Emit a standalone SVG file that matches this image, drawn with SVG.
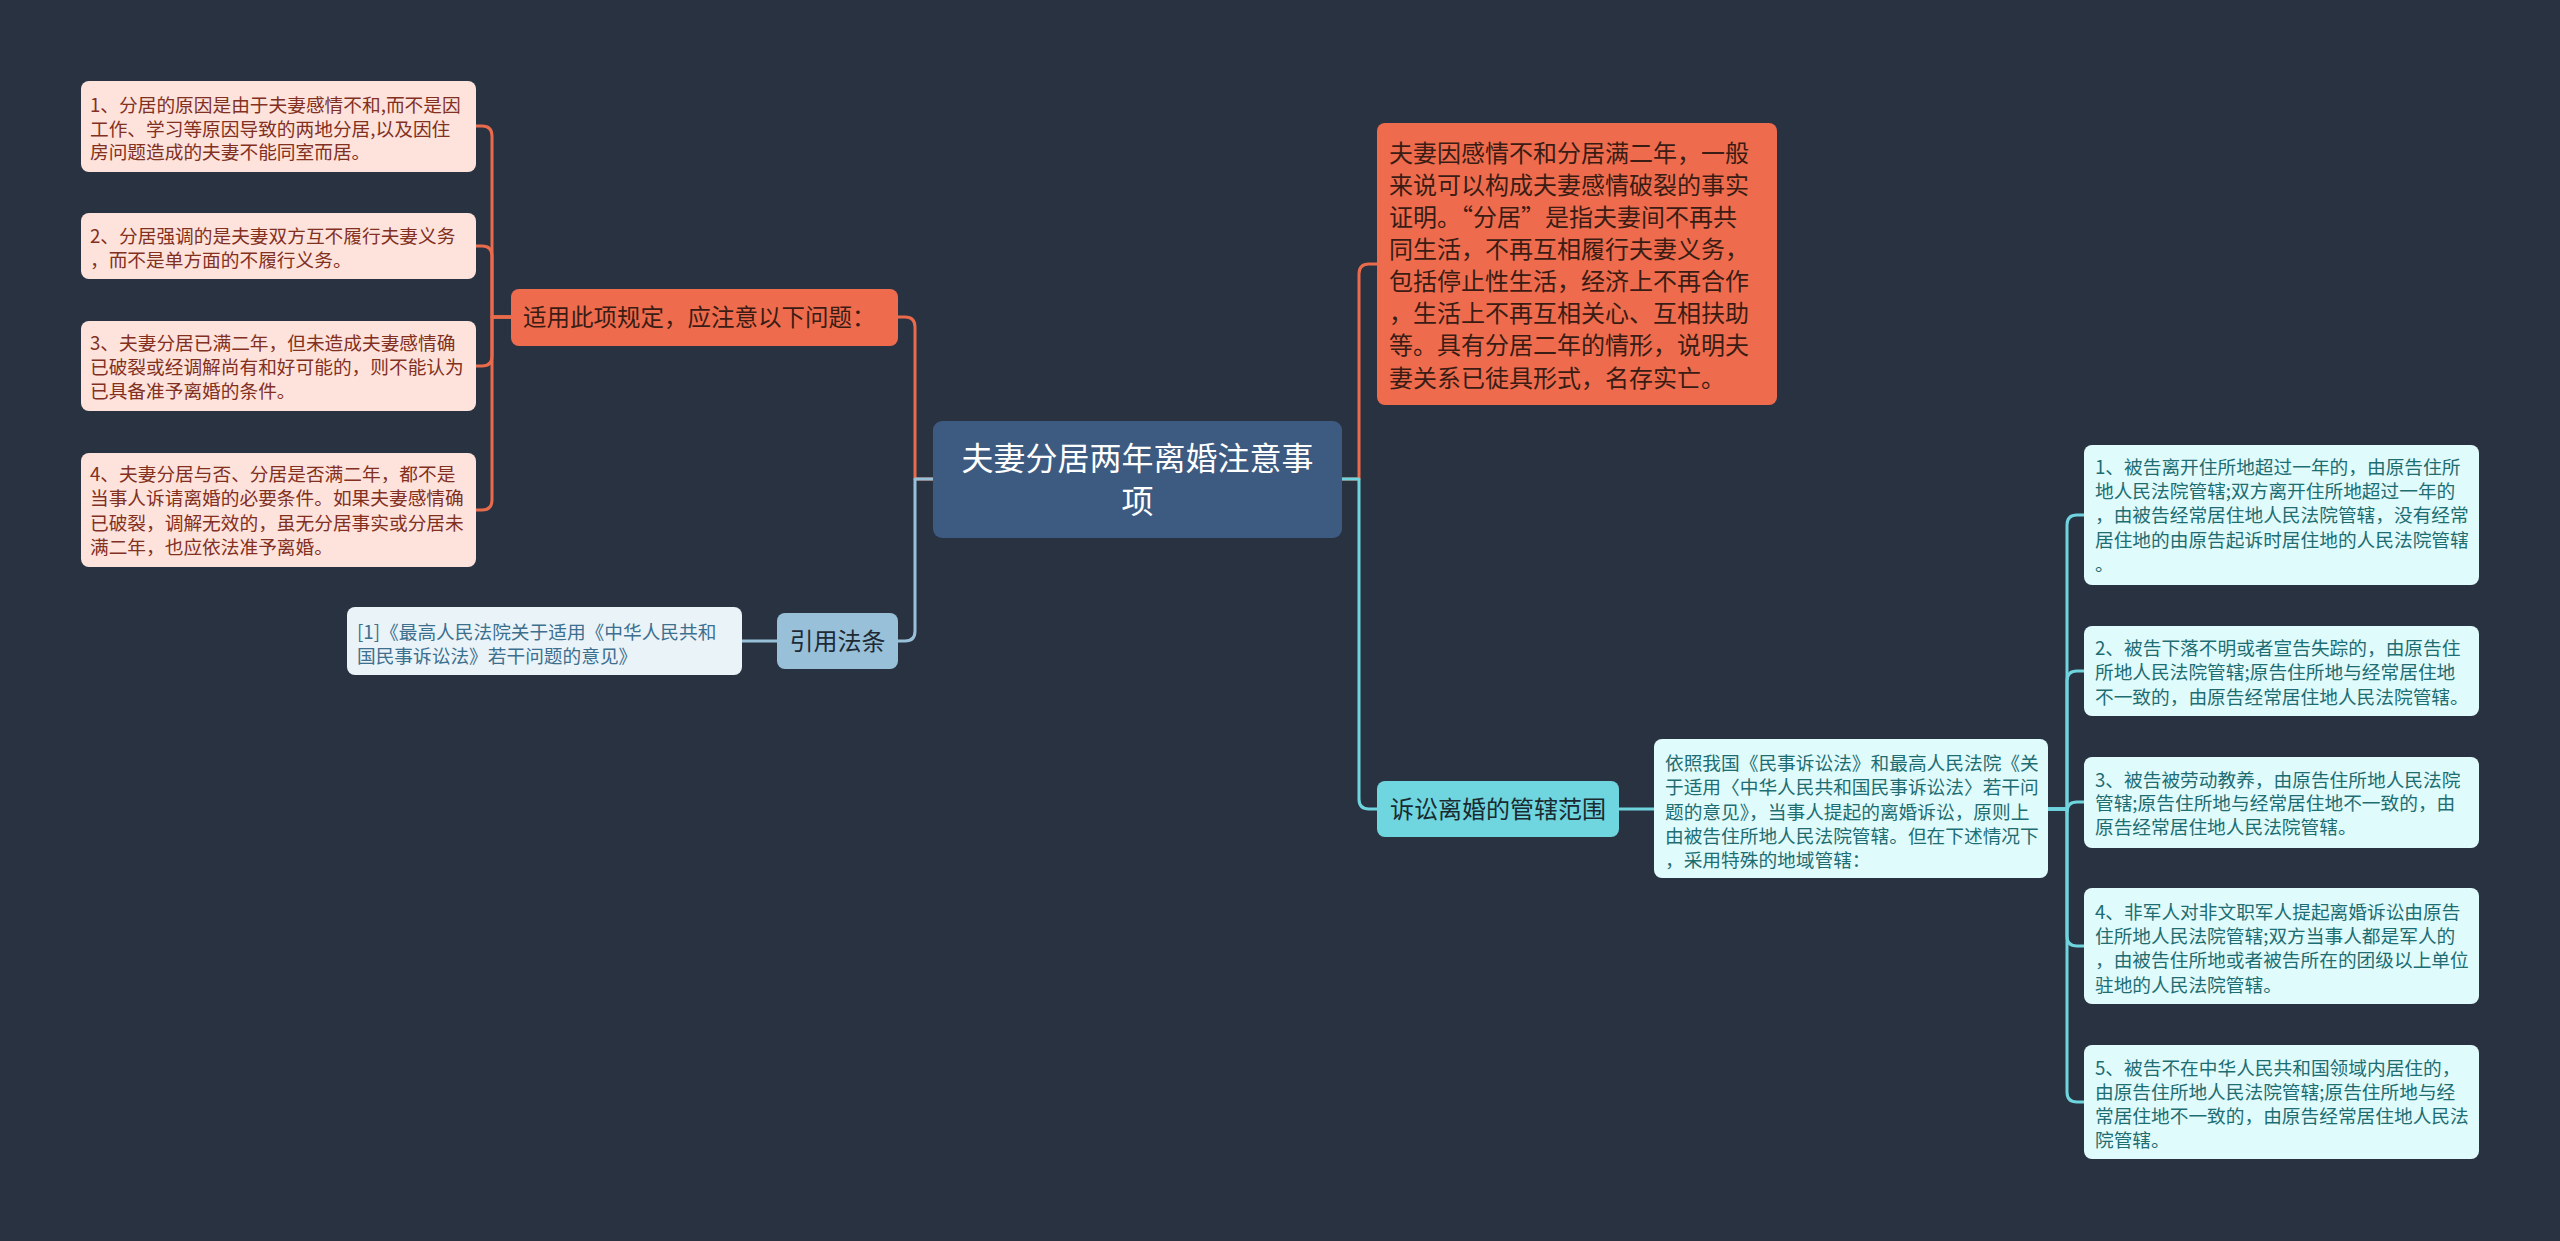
<svg xmlns="http://www.w3.org/2000/svg" width="2560" height="1241" viewBox="0 0 2560 1241">
<style>
text{font-family:"Noto Sans CJK SC","Noto Sans",sans-serif;}
.conn{fill:none;stroke-width:3;stroke-linejoin:round;}
.red{stroke:#ea6a4c;}
.blue{stroke:#98c1d9;}
.cyan{stroke:#6fd4de;}
.ld rect{fill:#fde3dc;}
.ld text{font-size:18.7px;fill:#82301f;}
.rd rect{fill:#e0fbfc;}
.rd text{font-size:18.7px;fill:#1d6d72;}
.red-node rect{fill:#ee6c4d;}
.red-node text{fill:#3a1c14;}
</style>
<rect x="0" y="0" width="2560" height="1241" fill="#293241"/>
<g id="connectors">
<path class="conn red" d="M933,479 H915 V327 Q915,317 905,317 H898"/>
<path class="conn blue" d="M933,479 H915 V631 Q915,641 905,641 H898"/>
<path class="conn red" d="M1342,479 H1359 V274 Q1359,264 1369,264 H1377"/>
<path class="conn cyan" d="M1342,479 H1359 V799 Q1359,809 1369,809 H1377"/>
<path class="conn red" d="M511,317 H492 V136 Q492,126 482,126 H476"/>
<path class="conn red" d="M511,317 H492 V256 Q492,246 482,246 H476"/>
<path class="conn red" d="M511,317 H492 V356 Q492,366 482,366 H476"/>
<path class="conn red" d="M511,317 H492 V500 Q492,510 482,510 H476"/>
<path class="conn blue" d="M777,641 H742"/>
<path class="conn cyan" d="M1619,809 H1654"/>
<path class="conn cyan" d="M2048,809 H2067 V525 Q2067,515 2077,515 H2084"/>
<path class="conn cyan" d="M2048,809 H2067 V681 Q2067,671 2077,671 H2084"/>
<path class="conn cyan" d="M2048,809 H2067 V812 Q2067,802 2077,802 H2084"/>
<path class="conn cyan" d="M2048,809 H2067 V936 Q2067,946 2077,946 H2084"/>
<path class="conn cyan" d="M2048,809 H2067 V1092 Q2067,1102 2077,1102 H2084"/>
</g>
<g id="central">
<rect x="933" y="421" width="409" height="117" rx="9" fill="#3d5a80"/>
<text x="1137.5" y="470" font-size="32" fill="#ffffff" text-anchor="middle">夫妻分居两年离婚注意事</text>
<text x="1137.5" y="513" font-size="32" fill="#ffffff" text-anchor="middle">项</text>
</g>
<g id="shiyong" class="red-node">
<rect x="511" y="289" width="387" height="57" rx="8"/>
<text x="523" y="325.5" font-size="23.5">适用此项规定，应注意以下问题：</text>
</g>
<g id="left1" class="ld">
<rect x="81" y="81" width="395" height="91" rx="8"/>
<text x="90" y="112">1、分居的原因是由于夫妻感情不和,而不是因</text>
<text x="90" y="135.5">工作、学习等原因导致的两地分居,以及因住</text>
<text x="90" y="159">房问题造成的夫妻不能同室而居。</text>
</g>
<g id="left2" class="ld">
<rect x="81" y="213" width="395" height="66" rx="8"/>
<text x="90" y="243">2、分居强调的是夫妻双方互不履行夫妻义务</text>
<text x="90" y="267">，而不是单方面的不履行义务。</text>
</g>
<g id="left3" class="ld">
<rect x="81" y="321" width="395" height="90" rx="8"/>
<text x="90" y="350">3、夫妻分居已满二年，但未造成夫妻感情确</text>
<text x="90" y="374">已破裂或经调解尚有和好可能的，则不能认为</text>
<text x="90" y="398">已具备准予离婚的条件。</text>
</g>
<g id="left4" class="ld">
<rect x="81" y="453" width="395" height="114" rx="8"/>
<text x="90" y="481">4、夫妻分居与否、分居是否满二年，都不是</text>
<text x="90" y="505">当事人诉请离婚的必要条件。如果夫妻感情确</text>
<text x="90" y="530">已破裂，调解无效的，虽无分居事实或分居未</text>
<text x="90" y="554">满二年，也应依法准予离婚。</text>
</g>
<g id="yinyong">
<rect x="777" y="613" width="121" height="56" rx="8" fill="#98c1d9"/>
<text x="837.5" y="650" font-size="24" fill="#1e2a36" text-anchor="middle">引用法条</text>
</g>
<g id="ref">
<rect x="347" y="607" width="395" height="68" rx="8" fill="#eaf3f8"/>
<text x="357" y="639" font-size="18.7" fill="#3d6f8f">[1]《最高人民法院关于适用《中华人民共和</text>
<text x="357" y="663" font-size="18.7" fill="#3d6f8f">国民事诉讼法》若干问题的意见》</text>
</g>
<g id="explain" class="red-node">
<rect x="1377" y="123" width="400" height="282" rx="8"/>
<text x="1389" y="162" font-size="24">夫妻因感情不和分居满二年，一般</text>
<text x="1389" y="194" font-size="24">来说可以构成夫妻感情破裂的事实</text>
<text x="1389" y="226" font-size="24">证明。“分居”是指夫妻间不再共</text>
<text x="1389" y="258" font-size="24">同生活，不再互相履行夫妻义务，</text>
<text x="1389" y="290" font-size="24">包括停止性生活，经济上不再合作</text>
<text x="1389" y="322" font-size="24">，生活上不再互相关心、互相扶助</text>
<text x="1389" y="354" font-size="24">等。具有分居二年的情形，说明夫</text>
<text x="1389" y="387" font-size="24">妻关系已徒具形式，名存实亡。</text>
</g>
<g id="susong">
<rect x="1377" y="781" width="242" height="56" rx="8" fill="#6fd5de"/>
<text x="1498" y="818" font-size="24" fill="#1a2a30" text-anchor="middle">诉讼离婚的管辖范围</text>
</g>
<g id="desc" class="rd">
<rect x="1654" y="739" width="394" height="139" rx="8"/>
<text x="1665" y="770">依照我国《民事诉讼法》和最高人民法院《关</text>
<text x="1665" y="794">于适用〈中华人民共和国民事诉讼法〉若干问</text>
<text x="1665" y="819">题的意见》，当事人提起的离婚诉讼，原则上</text>
<text x="1665" y="843">由被告住所地人民法院管辖。但在下述情况下</text>
<text x="1665" y="867">，采用特殊的地域管辖：</text>
</g>
<g id="right1" class="rd">
<rect x="2084" y="445" width="395" height="140" rx="8"/>
<text x="2095" y="474">1、被告离开住所地超过一年的，由原告住所</text>
<text x="2095" y="498">地人民法院管辖;双方离开住所地超过一年的</text>
<text x="2095" y="522">，由被告经常居住地人民法院管辖，没有经常</text>
<text x="2095" y="547">居住地的由原告起诉时居住地的人民法院管辖</text>
<text x="2095" y="571">。</text>
</g>
<g id="right2" class="rd">
<rect x="2084" y="626" width="395" height="90" rx="8"/>
<text x="2095" y="655">2、被告下落不明或者宣告失踪的，由原告住</text>
<text x="2095" y="679">所地人民法院管辖;原告住所地与经常居住地</text>
<text x="2095" y="704">不一致的，由原告经常居住地人民法院管辖。</text>
</g>
<g id="right3" class="rd">
<rect x="2084" y="757" width="395" height="91" rx="8"/>
<text x="2095" y="787">3、被告被劳动教养，由原告住所地人民法院</text>
<text x="2095" y="810">管辖;原告住所地与经常居住地不一致的，由</text>
<text x="2095" y="834">原告经常居住地人民法院管辖。</text>
</g>
<g id="right4" class="rd">
<rect x="2084" y="888" width="395" height="116" rx="8"/>
<text x="2095" y="919">4、非军人对非文职军人提起离婚诉讼由原告</text>
<text x="2095" y="943">住所地人民法院管辖;双方当事人都是军人的</text>
<text x="2095" y="967">，由被告住所地或者被告所在的团级以上单位</text>
<text x="2095" y="992">驻地的人民法院管辖。</text>
</g>
<g id="right5" class="rd">
<rect x="2084" y="1045" width="395" height="114" rx="8"/>
<text x="2095" y="1075">5、被告不在中华人民共和国领域内居住的，</text>
<text x="2095" y="1099">由原告住所地人民法院管辖;原告住所地与经</text>
<text x="2095" y="1123">常居住地不一致的，由原告经常居住地人民法</text>
<text x="2095" y="1147">院管辖。</text>
</g>
</svg>
